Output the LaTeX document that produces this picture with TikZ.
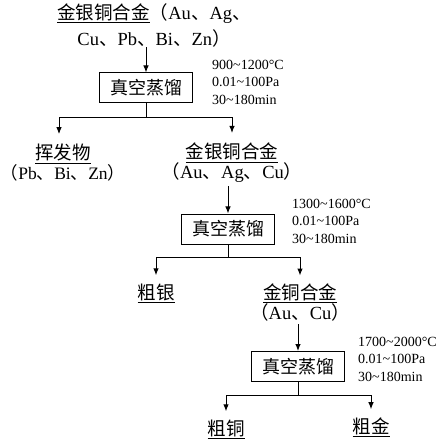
\documentclass[tikz,border=0pt]{standalone}
\usepackage{fontspec}
\setmainfont{Liberation Serif}
\newfontfamily\cjk{Noto Sans CJK SC}
\usetikzlibrary{arrows.meta}
\newcommand\zh[1]{{\cjk #1}}
\begin{document}
\begin{tikzpicture}[x=1pt,y=-1pt,
  lbl/.style={font=\fontsize{18.5}{20}\selectfont, align=center, inner sep=0pt},
  proc/.style={draw, line width=1pt, minimum width=93pt, minimum height=30pt, inner sep=0pt, font=\fontsize{18}{20}\selectfont},
  paramtext/.style={font=\fontsize{14}{17.5}\selectfont, align=left, inner sep=0pt, anchor=west},
  arr/.style={-{Latex[length=7pt,width=5.5pt]}, line width=1pt},
  ln/.style={line width=1pt}]
\useasboundingbox (0,0) rectangle (442,443);

% stage 1
\node[lbl, font=\fontsize{18.5}{26}\selectfont] (top) at (154,25)
  {\underline{\zh{金银铜合金}}\zh{（}Au\zh{、}Ag\zh{、}\\Cu\zh{、}Pb\zh{、}Bi\zh{、}Zn\zh{）}};
\node[proc] (b1) at (146,88) {\zh{真空蒸馏}};
\node[paramtext] (p1) at (212,82) {900\textasciitilde1200\textdegree C\\0.01\textasciitilde100Pa\\30\textasciitilde180min};
\coordinate (j1) at (146,118);
\node[lbl] (vol) at (63,163) {\underline{\zh{挥发物}}\\\fontsize{17.5}{20}\selectfont\zh{（}Pb\zh{、}Bi\zh{、}Zn\zh{）}};
\node[lbl] (a2) at (232,163) {\underline{\zh{金银铜合金}}\\\zh{（}Au\zh{、}Ag\zh{、}Cu\zh{）}};
\draw[arr] (b1.north |- top.south) -- (b1.north);
\draw[ln] (b1.south) -- (j1);
\draw[arr, shorten >=10pt] (j1) -| ([xshift=-4pt]vol.north);
\draw[arr, shorten >=10pt] (j1) -| (a2.north);

% stage 2
\node[proc] (b2) at (228,229) {\zh{真空蒸馏}};
\node[paramtext] (p2) at (292,221) {1300\textasciitilde1600\textdegree C\\0.01\textasciitilde100Pa\\30\textasciitilde180min};
\coordinate (j2) at (228,257);
\node[lbl] (ag) at (156,293) {\underline{\zh{粗银}}};
\node[lbl] (a3) at (300,302.5) {\underline{\zh{金铜合金}}\\\zh{（}Au\zh{、}Cu\zh{）}};
\draw[arr, shorten <=3pt] (a2.south -| b2) -- (b2.north);
\draw[ln] (b2.south) -- (j2);
\draw[arr, shorten >=8pt] (j2) -| (ag.north);
\draw[arr, shorten >=8pt] (j2) -| (a3.north);

% stage 3
\node[proc] (b3) at (298,366.5) {\zh{真空蒸馏}};
\node[paramtext] (p3) at (358,359) {1700\textasciitilde2000\textdegree C\\0.01\textasciitilde100Pa\\30\textasciitilde180min};
\coordinate (j3) at (298,395);
\node[lbl] (cu) at (226,429) {\underline{\zh{粗铜}}};
\node[lbl] (au) at (371,427) {\underline{\zh{粗金}}};
\draw[arr, shorten <=3pt] (a3.south -| b3) -- (b3.north);
\draw[ln] (b3.south) -- (j3);
\draw[arr, shorten >=8pt] (j3) -| (cu.north);
\draw[arr, shorten >=8pt] (j3) -| (au.north);
\end{tikzpicture}
\end{document}
